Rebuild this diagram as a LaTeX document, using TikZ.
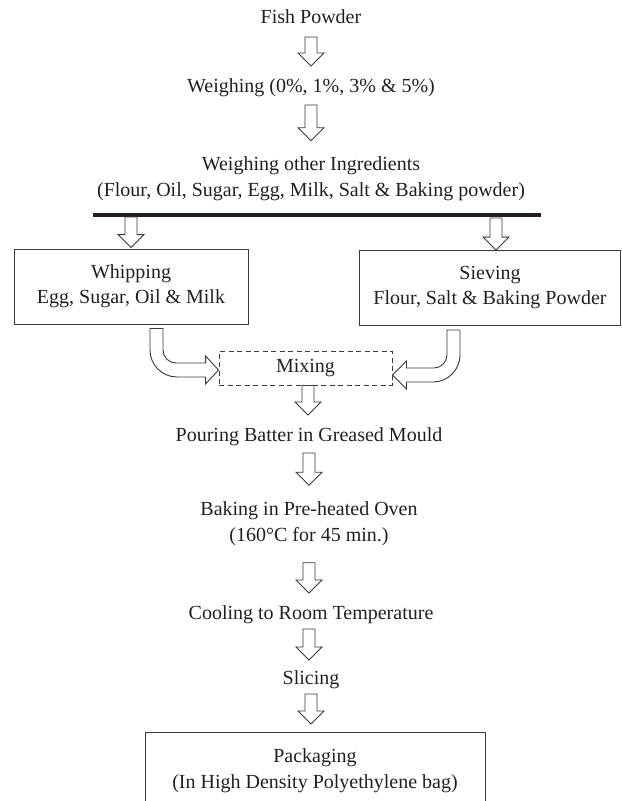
\documentclass[tikz,border=0pt]{standalone}
\usepackage{fontspec}
\setmainfont{Liberation Serif}
\usetikzlibrary{calc}
\definecolor{ink}{HTML}{231F20}
\definecolor{edgec}{HTML}{3A3A3A}
% straight block arrow pointing down, from #1 to #2 (shaft x taken from #1)
\newcommand\dnarrow[2]{%
  \path[barrow] let \p1=(#1), \p2=(#2) in
    (\x1-6bp,\y1) -- (\x1+6bp,\y1) -- (\x1+6bp,\y2+13bp) -- (\x1+13bp,\y2+13bp)
    -- (\x1,\y2) -- (\x1-13bp,\y2+13bp) -- (\x1-6bp,\y2+13bp) -- cycle;}
\begin{document}
\begin{tikzpicture}[x=1bp,y=-1bp,
  txt/.style={font=\fontsize{20bp}{26bp}\selectfont, text=ink, inner sep=0pt,
              text height=14bp, text depth=4bp},
  mtxt/.style={font=\fontsize{20bp}{26bp}\selectfont, text=ink, inner sep=0pt, align=center},
  procbox/.style={draw=edgec, line width=0.9bp, font=\fontsize{20bp}{25bp}\selectfont,
              text=ink, align=center, inner sep=0pt},
  mixbox/.style={draw=edgec, line width=0.9bp, dash pattern=on 5bp off 3.5bp,
              font=\fontsize{20bp}{26bp}\selectfont, text=ink, inner sep=0pt},
  barrow/.style={draw=edgec, fill=white, line width=0.9bp, line join=miter},
  barline/.style={draw=ink, line width=4bp}]
\useasboundingbox (0,0) rectangle (622,801);

% text nodes
\node[txt] (fish) at (311,19) {Fish Powder};
\node[txt] (w1) at (311,87) {Weighing (0\%, 1\%, 3\% \& 5\%)};
\node[mtxt] (w2) at (311,178.5) {Weighing other Ingredients\\(Flour, Oil, Sugar, Egg, Milk, Salt \& Baking powder)};
\coordinate (barL) at (93,215);
\coordinate (barR) at (541,215);
\draw[barline] (barL) -- (barR);

\node[procbox, minimum width=234bp, minimum height=75bp] (whip) at (131,286.5)
  {Whipping\\Egg, Sugar, Oil \& Milk};
\node[procbox, minimum width=261.5bp, minimum height=75bp] (sieve) at (490,288)
  {Sieving\\Flour, Salt \& Baking Powder};
\node[mixbox, minimum width=173bp, minimum height=34bp] (mix) at (305.5,368) {Mixing};

\node[txt] (pour) at (309,436) {Pouring Batter in Greased Mould};
\node[mtxt] (bake) at (309,523.5) {Baking in Pre-heated Oven\\(160°C for 45 min.)};
\node[txt] (cool) at (311,614) {Cooling to Room Temperature};
\node[txt] (slice) at (311,679) {Slicing};
\node[mtxt] (packtxt) at (315,770.5) {Packaging\\(In High Density Polyethylene bag)};
\coordinate (packTL) at (145,732);
\coordinate (packTR) at (485,732);
\draw[draw=edgec, line width=0.9bp] ($(packTL)+(0,75)$) -- (packTL) -- (packTR) -- ($(packTR)+(0,75)$);

% straight block arrows
\dnarrow{$(fish.center)+(0,18)$}{$(w1.center)+(0,-21)$}
\dnarrow{$(w1.center)+(0,18)$}{$(w2.north)+(0,-15.5)$}
\dnarrow{$(barL)+(38,2)$}{$(whip.north)+(0,-1)$}
\dnarrow{$(barR)+(-45,3)$}{sieve.north}
\dnarrow{$(mix.south)+(2.5,0)$}{$(pour.center)+(-1,-21)$}
\dnarrow{$(pour.center)+(0,17)$}{$(bake.north)+(0,-16)$}
\dnarrow{$(bake.south)+(0,17)$}{$(cool.center)+(0,-21)$}
\dnarrow{$(cool.center)+(-2,15)$}{$(slice.center)+(0,-19)$}
\dnarrow{$(slice.center)+(0,15)$}{$(packTL)!0.5!(packTR)+(0,-8)$}

% curved block arrow: Whipping -> Mixing
\path[barrow] let \p1=($(whip.south)+(25.5,4)$), \p2=($(mix.west)+(0,2)$) in
  (\x1-6.5bp,\y1) -- (\x1+6.5bp,\y1) -- (\x1+6.5bp,\y2+20bp)
  .. controls (\x1+6.5bp,\y2+12.8bp) and (\x1+12.3bp,\y2+7bp) .. (\x1+19.5bp,\y2+7bp)
  -- (\x2-13bp,\y2+7bp) -- (\x2-13bp,\y2+14bp) -- (\x2,\y2) -- (\x2-13bp,\y2-14bp)
  -- (\x2-13bp,\y2-7bp) -- (\x1+20.5bp,\y2-7bp)
  .. controls (\x1+5.6bp,\y2-7bp) and (\x1-6.5bp,\y2+5.1bp) .. (\x1-6.5bp,\y2+20bp) -- cycle;

% curved block arrow: Sieving -> Mixing
\path[barrow] let \p1=($(sieve.south)+(-36.5,4)$), \p2=($(mix.east)+(0,7)$) in
  (\x1+6.5bp,\y1) -- (\x1-6.5bp,\y1) -- (\x1-6.5bp,\y2+20bp)
  .. controls (\x1-6.5bp,\y2+12.8bp) and (\x1-12.3bp,\y2+7bp) .. (\x1-19.5bp,\y2+7bp)
  -- (\x2+14bp,\y2+7bp) -- (\x2+14bp,\y2+14bp) -- (\x2,\y2) -- (\x2+14bp,\y2-14bp)
  -- (\x2+14bp,\y2-7bp) -- (\x1-20.5bp,\y2-7bp)
  .. controls (\x1-5.6bp,\y2-7bp) and (\x1+6.5bp,\y2+5.1bp) .. (\x1+6.5bp,\y2+20bp) -- cycle;
\end{tikzpicture}
\end{document}
